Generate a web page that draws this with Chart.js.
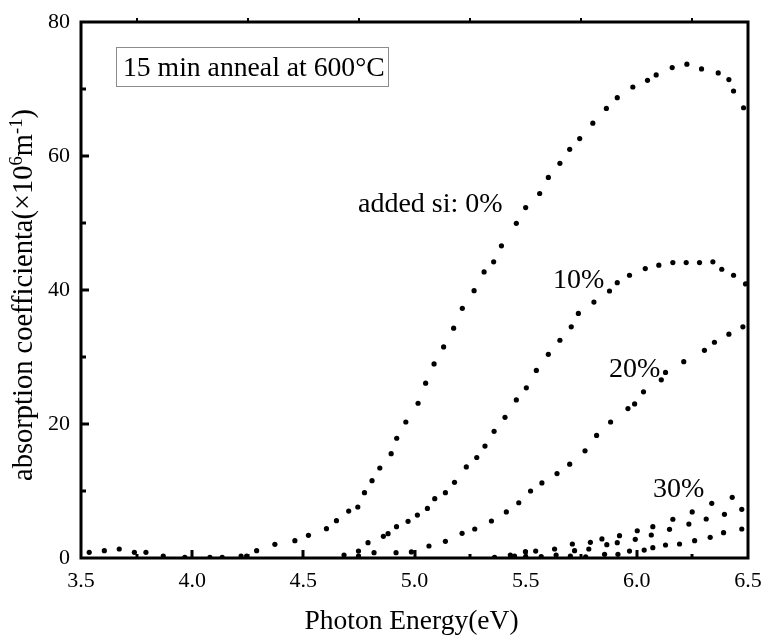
<!DOCTYPE html>
<html>
<head>
<meta charset="utf-8">
<script src="https://cdn.jsdelivr.net/npm/chart.js@4/dist/chart.umd.min.js"></script>
<style>
  html, body { margin: 0; padding: 0; background: #fff; }
  #wrap { width: 762px; height: 635px; position: relative; }
</style>
</head>
<body>
<div id="wrap"><canvas id="c" width="762" height="635"></canvas></div>
<script>
// ---- data ----
const xTicks = [3.5, 4.0, 4.5, 5.0, 5.5, 6.0, 6.5];
const yTicks = [0, 20, 40, 60, 80];

const si0X = [3.537,3.605,3.672,3.74,3.792,3.87,3.967,4.08,4.135,4.22,4.245,4.29,4.372,4.462,4.523,4.604,4.649,4.704,4.745,4.775,4.809,4.844,4.895,4.92,4.961,5.016,5.05,5.088,5.131,5.176,5.215,5.268,5.313,5.356,5.391,5.458,5.5,5.563,5.602,5.654,5.698,5.743,5.802,5.863,5.912,5.982,6.048,6.087,6.159,6.225,6.291,6.366,6.414,6.435,6.48];
const si0Y = [0.85,1.09,1.34,0.85,0.85,0.3,0.1,0.1,0.1,0.3,0.3,1.09,2.04,2.58,3.39,4.37,5.57,7.01,7.61,9.75,11.54,13.43,15.57,17.87,20.3,23.1,26.1,28.96,31.5,34.3,37.27,39.9,42.7,44.2,46.6,49.95,52.3,54.4,56.8,58.9,61.0,62.6,64.9,67.1,68.7,70.3,71.3,72.1,73.2,73.7,73.0,72.4,71.4,69.7,67.2];

const si10X = [4.683,4.748,4.791,4.86,4.881,4.919,4.971,5.013,5.058,5.091,5.139,5.18,5.233,5.28,5.317,5.358,5.407,5.458,5.503,5.548,5.602,5.654,5.705,5.737,5.807,5.877,5.912,5.967,6.038,6.099,6.162,6.222,6.282,6.342,6.382,6.435,6.489];
const si10Y = [0.45,1.04,2.28,3.24,3.63,4.67,5.47,6.4,7.4,8.85,9.75,11.3,13.6,15.0,16.7,18.9,21.0,23.6,25.4,28.0,30.4,32.5,34.5,36.5,38.2,39.85,41.1,42.2,43.2,43.7,44.1,44.1,44.1,44.2,43.1,42.2,40.9];

const si20X = [4.748,4.818,4.917,4.986,5.065,5.139,5.214,5.271,5.346,5.413,5.469,5.522,5.573,5.641,5.698,5.767,5.819,5.882,5.96,5.99,6.03,6.11,6.129,6.211,6.304,6.349,6.414,6.477];
const si20Y = [0.3,0.8,0.8,0.9,1.79,2.49,3.68,4.33,5.52,6.87,8.25,10.0,11.2,12.6,14.0,16.0,18.3,20.3,22.3,23.0,24.8,26.6,27.7,29.3,31.0,32.2,33.4,34.5];

const si30aX = [5.431,5.499,5.545,5.63,5.71,5.791,5.843,5.922,6.002,6.072,6.162,6.249,6.337,6.429];
const si30aY = [0.45,0.94,1.04,1.34,2.09,2.34,2.84,3.33,4.07,4.67,5.78,6.87,8.16,9.06];

const si30bX = [5.72,5.784,5.865,5.912,5.993,6.065,6.147,6.234,6.312,6.394,6.472];
const si30bY = [1.09,1.34,1.99,2.28,2.79,3.43,4.28,5.07,5.82,6.52,7.27];

const si30cX = [5.36,5.45,5.5,5.57,5.637,5.701,5.77,5.855,5.915,5.967,6.033,6.072,6.129,6.192,6.26,6.33,6.39,6.472];
const si30cY = [0.1,0.3,0.2,0.2,0.45,0.3,0.19,0.55,0.55,1.04,1.19,1.54,1.94,2.09,2.58,3.09,3.78,4.33];

const seriesNames = ['0%', '10%', '20%', '30% a', '30% b', '30% c'];
const xTitle = 'Photon Energy(eV)';
const boxText = '15 min anneal at 600°C';
const curveLabels = ['added si: 0%', '10%', '20%', '30%'];

// ---- build ----
function pts(xs, ys) { return xs.map((x, i) => ({ x: x, y: ys[i] })); }
const allSeries = [[si0X, si0Y], [si10X, si10Y], [si20X, si20Y], [si30aX, si30aY], [si30bX, si30bY], [si30cX, si30cY]];
const datasets = allSeries.map((s, i) => ({
  label: seriesNames[i],
  data: pts(s[0], s[1]),
  backgroundColor: '#000',
  borderWidth: 0,
  pointRadius: 2.6,
  pointHoverRadius: 2.6,
  showLine: false
}));

const SERIF = '"Liberation Serif", "Times New Roman", serif';

const decor = {
  id: 'decor',
  afterDraw(chart) {
    const ctx = chart.ctx;
    const a = chart.chartArea;
    const xs = chart.scales.x, ys = chart.scales.y;
    ctx.save();
    ctx.fillStyle = '#000';
    ctx.strokeStyle = '#000';
    ctx.lineCap = 'butt';
    // bottom major + minor ticks (inward), top minor ticks (outward)
    for (let v = 3.75; v < 6.5; v += 0.25) {
      const major = Math.abs(v * 2 - Math.round(v * 2)) < 1e-6;
      const px = Math.round(xs.getPixelForValue(v));
      ctx.lineWidth = 3;
      ctx.beginPath();
      ctx.moveTo(px, a.bottom);
      ctx.lineTo(px, a.bottom - (major ? 8 : 4));
      ctx.stroke();
      if (!major) {
        ctx.lineWidth = 2;
        ctx.beginPath();
        ctx.moveTo(px, a.top);
        ctx.lineTo(px, a.top - 4);
        ctx.stroke();
      }
    }
    // left major + minor ticks (inward)
    ctx.lineWidth = 3;
    for (let v = 10; v < 80; v += 10) {
      const major = v % 20 === 0;
      const py = Math.round(ys.getPixelForValue(v));
      ctx.beginPath();
      ctx.moveTo(a.left, py);
      ctx.lineTo(a.left + (major ? 8 : 5), py);
      ctx.stroke();
    }
    // frame
    ctx.lineWidth = 3;
    ctx.strokeRect(a.left, a.top, a.right - a.left, a.bottom - a.top);

    // x title
    ctx.font = '27.5px ' + SERIF;
    ctx.textAlign = 'center';
    ctx.textBaseline = 'alphabetic';
    ctx.fillText(xTitle, (a.left + a.right) / 2 - 3, 629);

    // y title with superscripts
    const big = '28.5px ' + SERIF, small = '18.5px ' + SERIF;
    const parts = [
      ['absorption coefficienta(×10', big, 0],
      ['6', small, -10],
      ['m', big, 0],
      ['-1', small, -10],
      [')', big, 0]
    ];
    let total = 0;
    parts.forEach(p => { ctx.font = p[1]; total += ctx.measureText(p[0]).width; });
    ctx.translate(32, (a.top + a.bottom) / 2 + 5);
    ctx.rotate(-Math.PI / 2);
    ctx.textAlign = 'left';
    let cx = -total / 2;
    parts.forEach(p => {
      ctx.font = p[1];
      ctx.fillText(p[0], cx, p[2]);
      cx += ctx.measureText(p[0]).width;
    });
    ctx.setTransform(1, 0, 0, 1, 0, 0);

    // text box
    ctx.lineWidth = 1;
    ctx.strokeStyle = '#8c8c8c';
    ctx.strokeRect(116.5, 47.5, 272, 39);
    ctx.font = '27.7px ' + SERIF;
    ctx.textAlign = 'left';
    ctx.fillStyle = '#000';
    ctx.fillText(boxText, 123, 76);

    // curve labels
    ctx.font = '28px ' + SERIF;
    ctx.fillText(curveLabels[0], 358, 212);
    ctx.fillText(curveLabels[1], 553, 288);
    ctx.fillText(curveLabels[2], 609, 377);
    ctx.fillText(curveLabels[3], 653, 497);
    ctx.restore();
  }
};

new Chart(document.getElementById('c'), {
  type: 'scatter',
  data: { datasets: datasets },
  plugins: [decor],
  options: {
    responsive: false,
    animation: false,
    events: [],
    layout: { padding: { left: 0, right: 14, top: 22, bottom: 0 } },
    plugins: { legend: { display: false }, tooltip: { enabled: false }, title: { display: false } },
    scales: {
      x: {
        type: 'linear', min: 3.5, max: 6.5,
        afterBuildTicks: s => { s.ticks = xTicks.map(v => ({ value: v })); },
        afterFit: s => { s.height = 77; s.paddingLeft = 0; s.paddingRight = 0; },
        grid: { display: false, drawTicks: false },
        border: { display: false },
        ticks: { color: '#000', font: { family: SERIF, size: 22 }, padding: 10, maxRotation: 0,
                 callback: v => Number(v).toFixed(1) }
      },
      y: {
        type: 'linear', min: 0, max: 80,
        afterBuildTicks: s => { s.ticks = yTicks.map(v => ({ value: v })); },
        afterFit: s => { s.width = 81; s.paddingTop = 0; s.paddingBottom = 0; },
        grid: { display: false, drawTicks: false },
        border: { display: false },
        ticks: { color: '#000', font: { family: SERIF, size: 22 }, padding: 11,
                 callback: v => String(v) }
      }
    }
  }
});
</script>
</body>
</html>
